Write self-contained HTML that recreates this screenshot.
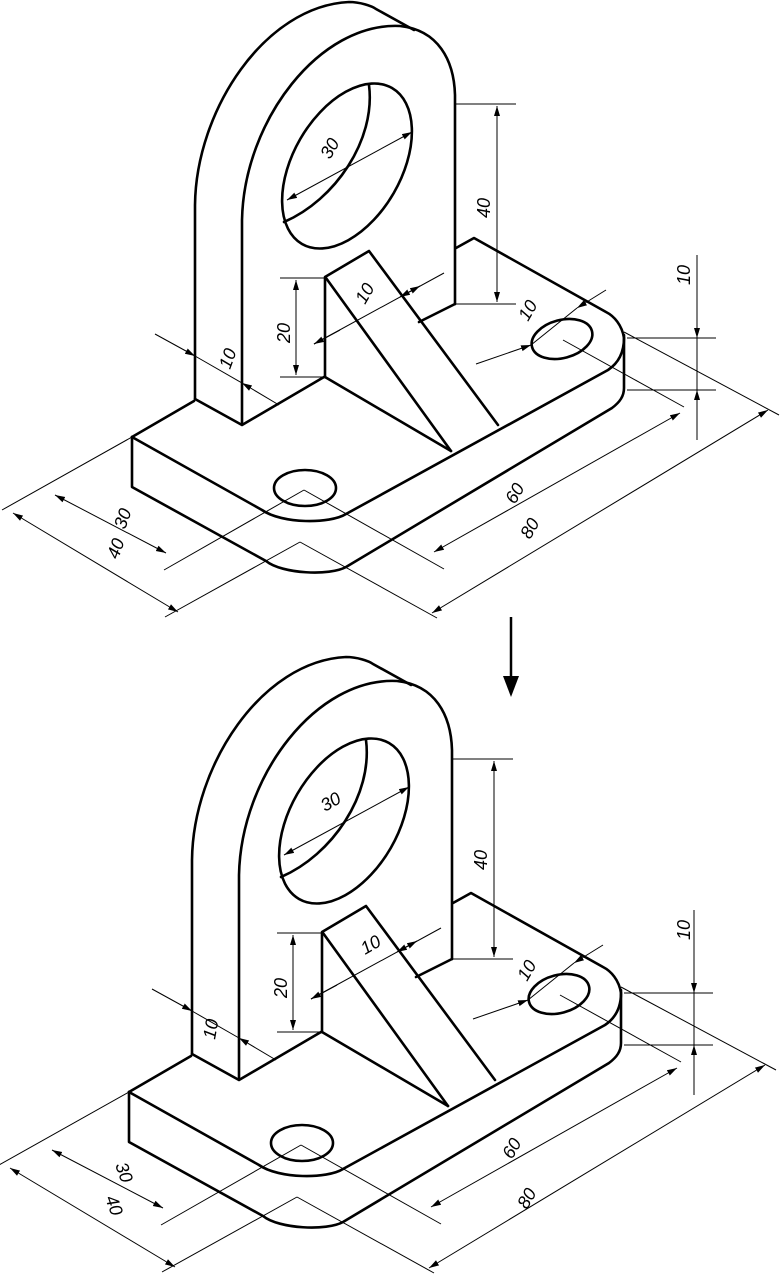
<!DOCTYPE html>
<html><head><meta charset="utf-8"><style>
html,body{margin:0;padding:0;background:#fff;}
svg{display:block;}
text{font-family:"Liberation Sans",sans-serif;font-size:18px;fill:#000;font-style:italic;}
</style></head><body>
<svg width="781" height="1275" viewBox="0 0 781 1275" xmlns="http://www.w3.org/2000/svg">
<defs>
<marker id="a" viewBox="0 0 10 10" refX="10" refY="5" markerWidth="10" markerHeight="10" orient="auto-start-reverse" markerUnits="userSpaceOnUse"><path d="M0,2 L10,5 L0,8 z" fill="#000"/></marker>
<g id="fig">
 <g fill="none" stroke="#000" stroke-width="2.6" stroke-linejoin="round" stroke-linecap="round">
  <path d="M195,399 L195,205 C196,110 265,6 349,2 C360,2 372,6 376,9 L414,30"/>
  <path d="M242,424 L242,220 C244,120 320,22 400,26 C438,30 454,60 455,95 L455,304"/>
  <path d="M195,399 L242,425 L324,377"/>
  <ellipse cx="347" cy="166" rx="90" ry="54" transform="rotate(-60 347 166)"/>
  <path d="M369,85 C376,140 335,200 284,222"/>
  <path d="M325,377 L325,277 L369,251 L498,425"/>
  <path d="M326,278 L451,451"/>
  <path d="M325,377 L451,451"/>
  <path d="M455,304 L419,322"/>
  <path d="M132,437 L194,401"/>
  <path d="M132,437 L132,487 L266,561 C282,574 330,576 346,567 L612,408 C620,402 624,396 624,388 L624,335"/>
  <path d="M132,437 L262,510 C282,524 330,524 346,514 L608,370 C620,362 624,350 624,338 C622,325 614,316 606,312 L474,238 L456,248"/>
  <ellipse cx="562" cy="339" rx="31" ry="19" transform="rotate(-15 562 339)"/>
  <ellipse cx="305" cy="488" rx="31" ry="18"/>
 </g>
 <g fill="none" stroke="#000" stroke-width="1">
  <path d="M456,104 L516,104 M456,304 L516,304"/>
  <path d="M497,106 L497,302" marker-start="url(#a)" marker-end="url(#a)"/>
  <path d="M627,338 L716,338 M627,390 L716,390 M697,255 L697,440"/>
  <path d="M697,318 L697,338" marker-end="url(#a)"/>
  <path d="M697,410 L697,390" marker-end="url(#a)"/>
  <path d="M280,278 L324,278 M280,377 L324,377"/>
  <path d="M296,280 L296,375" marker-start="url(#a)" marker-end="url(#a)"/>
  <path d="M314,344 L444,273"/>
  <path d="M314,344 L340,330" marker-start="url(#a)"/>
  <path d="M420,286 L400,297" marker-start="url(#a)" marker-end="url(#a)"/>
  <path d="M155,334 L195,356" marker-end="url(#a)"/>
  <path d="M279,405 L242,383" marker-end="url(#a)"/>
  <path d="M195,356 L242,383"/>
  <path d="M287,200 L412,132" marker-start="url(#a)" marker-end="url(#a)"/>
  <path d="M476,364 L531,345" marker-end="url(#a)"/>
  <path d="M606,290 L577,308" marker-end="url(#a)"/>
  <path d="M531,345 L577,308"/>
  <path d="M132,437 L2,510"/>
  <path d="M304,490 L164,570"/>
  <path d="M300,542 L165,617"/>
  <path d="M304,490 L444,569"/>
  <path d="M300,542 L437,618"/>
  <path d="M563,340 L684,407"/>
  <path d="M624,332 L779,415"/>
  <path d="M55,495 L166,553" marker-start="url(#a)" marker-end="url(#a)"/>
  <path d="M13,513 L178,612" marker-start="url(#a)" marker-end="url(#a)"/>
  <path d="M680,413 L434,552" marker-start="url(#a)" marker-end="url(#a)"/>
  <path d="M768,410 L432,613" marker-start="url(#a)" marker-end="url(#a)"/>
 </g>
</g>
</defs>
<use href="#fig"/>
<use href="#fig" transform="translate(-3,655)"/>
<line x1="511" y1="617" x2="511" y2="680" stroke="#000" stroke-width="2.5"/>
<path d="M503,676 L519,676 L511,697 z" fill="#000"/>
<text transform="translate(330,160) rotate(-60)">30</text>
<text transform="translate(490,218) rotate(-90)">40</text>
<text transform="translate(690,285) rotate(-90)">10</text>
<text transform="translate(290,343) rotate(-90)">20</text>
<text transform="translate(365,305) rotate(-60)">10</text>
<text transform="translate(230,370) rotate(-70)">10</text>
<text transform="translate(528,322) rotate(-60)">10</text>
<text transform="translate(125,530) rotate(-70)">30</text>
<text transform="translate(118,560) rotate(-70)">40</text>
<text transform="translate(515,505) rotate(-60)">60</text>
<text transform="translate(530,540) rotate(-60)">80</text>
<text transform="translate(325,812) rotate(-30)">30</text>
<text transform="translate(487,870) rotate(-90)">40</text>
<text transform="translate(690,940) rotate(-90)">10</text>
<text transform="translate(287,998) rotate(-90)">20</text>
<text transform="translate(365,955) rotate(-30)">10</text>
<text transform="translate(215,1040) rotate(-80)">10</text>
<text transform="translate(527,982) rotate(-60)">10</text>
<text transform="translate(115,1165) rotate(70)">30</text>
<text transform="translate(105,1198) rotate(70)">40</text>
<text transform="translate(512,1160) rotate(-60)">60</text>
<text transform="translate(527,1210) rotate(-60)">80</text>
</svg>
</body></html>
